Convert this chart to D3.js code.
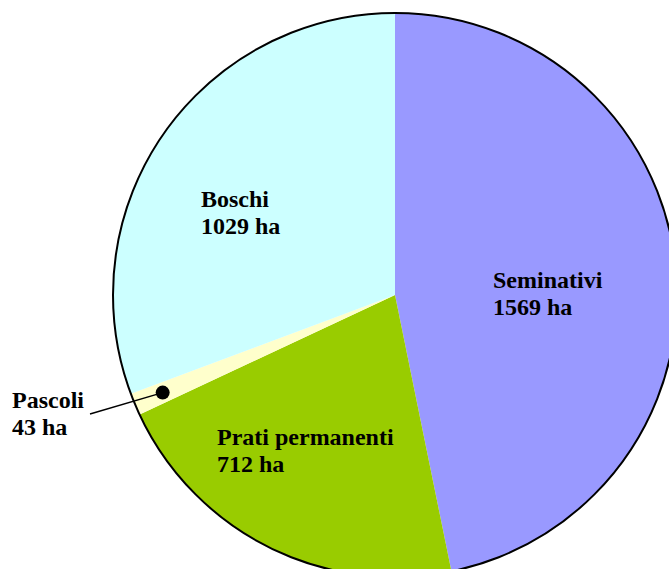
<!DOCTYPE html>
<html>
<head>
<meta charset="utf-8">
<script src="https://cdn.jsdelivr.net/npm/d3@7"></script>
<style>
  html, body { margin: 0; padding: 0; background: #fff; }
  svg { display: block; }
  text { font-family: "Liberation Serif", "Times New Roman", serif; font-weight: bold; font-size: 24px; fill: #000; }
</style>
</head>
<body>
<svg id="chart" width="669" height="569"></svg>
<script>
const categories = ["Seminativi", "Prati permanenti", "Pascoli", "Boschi"];
const values = [1569, 712, 43, 1029];
const colors = ["#9999FF", "#99CC00", "#FFFFCC", "#CCFFFF"];
const unit = "ha";

const width = 669, height = 569;
const cx = 395, cy = 295, r = 282;

const data = categories.map((c, i) => ({ name: c, value: values[i], color: colors[i] }));

const svg = d3.select("#chart");
const g = svg.append("g").attr("transform", `translate(${cx},${cy})`);

const pie = d3.pie().value(d => d.value).sort(null);
const arcs = pie(data);
const arc = d3.arc().innerRadius(0).outerRadius(r);

g.selectAll("path.slice")
  .data(arcs)
  .join("path")
  .attr("class", "slice")
  .attr("d", arc)
  .attr("fill", d => d.data.color);

// outer border only
g.append("circle")
  .attr("r", r)
  .attr("fill", "none")
  .attr("stroke", "#000")
  .attr("stroke-width", 2);

// label positions relative to the pie centre
const labelPos = {
  "Seminativi": [98, -7],
  "Prati permanenti": [-178, 150],
  "Boschi": [-194, -88],
  "Pascoli": [-383, 113]
};

const labels = g.selectAll("g.label")
  .data(arcs)
  .join("g")
  .attr("class", "label")
  .attr("transform", d => `translate(${labelPos[d.data.name]})`);

labels.append("text").attr("y", 0).text(d => d.data.name);
labels.append("text").attr("y", 27).text(d => `${d.data.value} ${unit}`);

// leader line + dot for the small slice
const small = arcs.find(d => d.data.name === "Pascoli");
const dotArc = d3.arc().innerRadius(252).outerRadius(252);
const [dx, dy] = dotArc.centroid(small);
const lp = labelPos["Pascoli"];
g.append("line")
  .attr("x1", lp[0] + 78).attr("y1", lp[1] + 6)
  .attr("x2", dx).attr("y2", dy)
  .attr("stroke", "#000").attr("stroke-width", 1.5);
g.append("circle")
  .attr("cx", dx).attr("cy", dy).attr("r", 7)
  .attr("fill", "#000");
</script>
</body>
</html>
